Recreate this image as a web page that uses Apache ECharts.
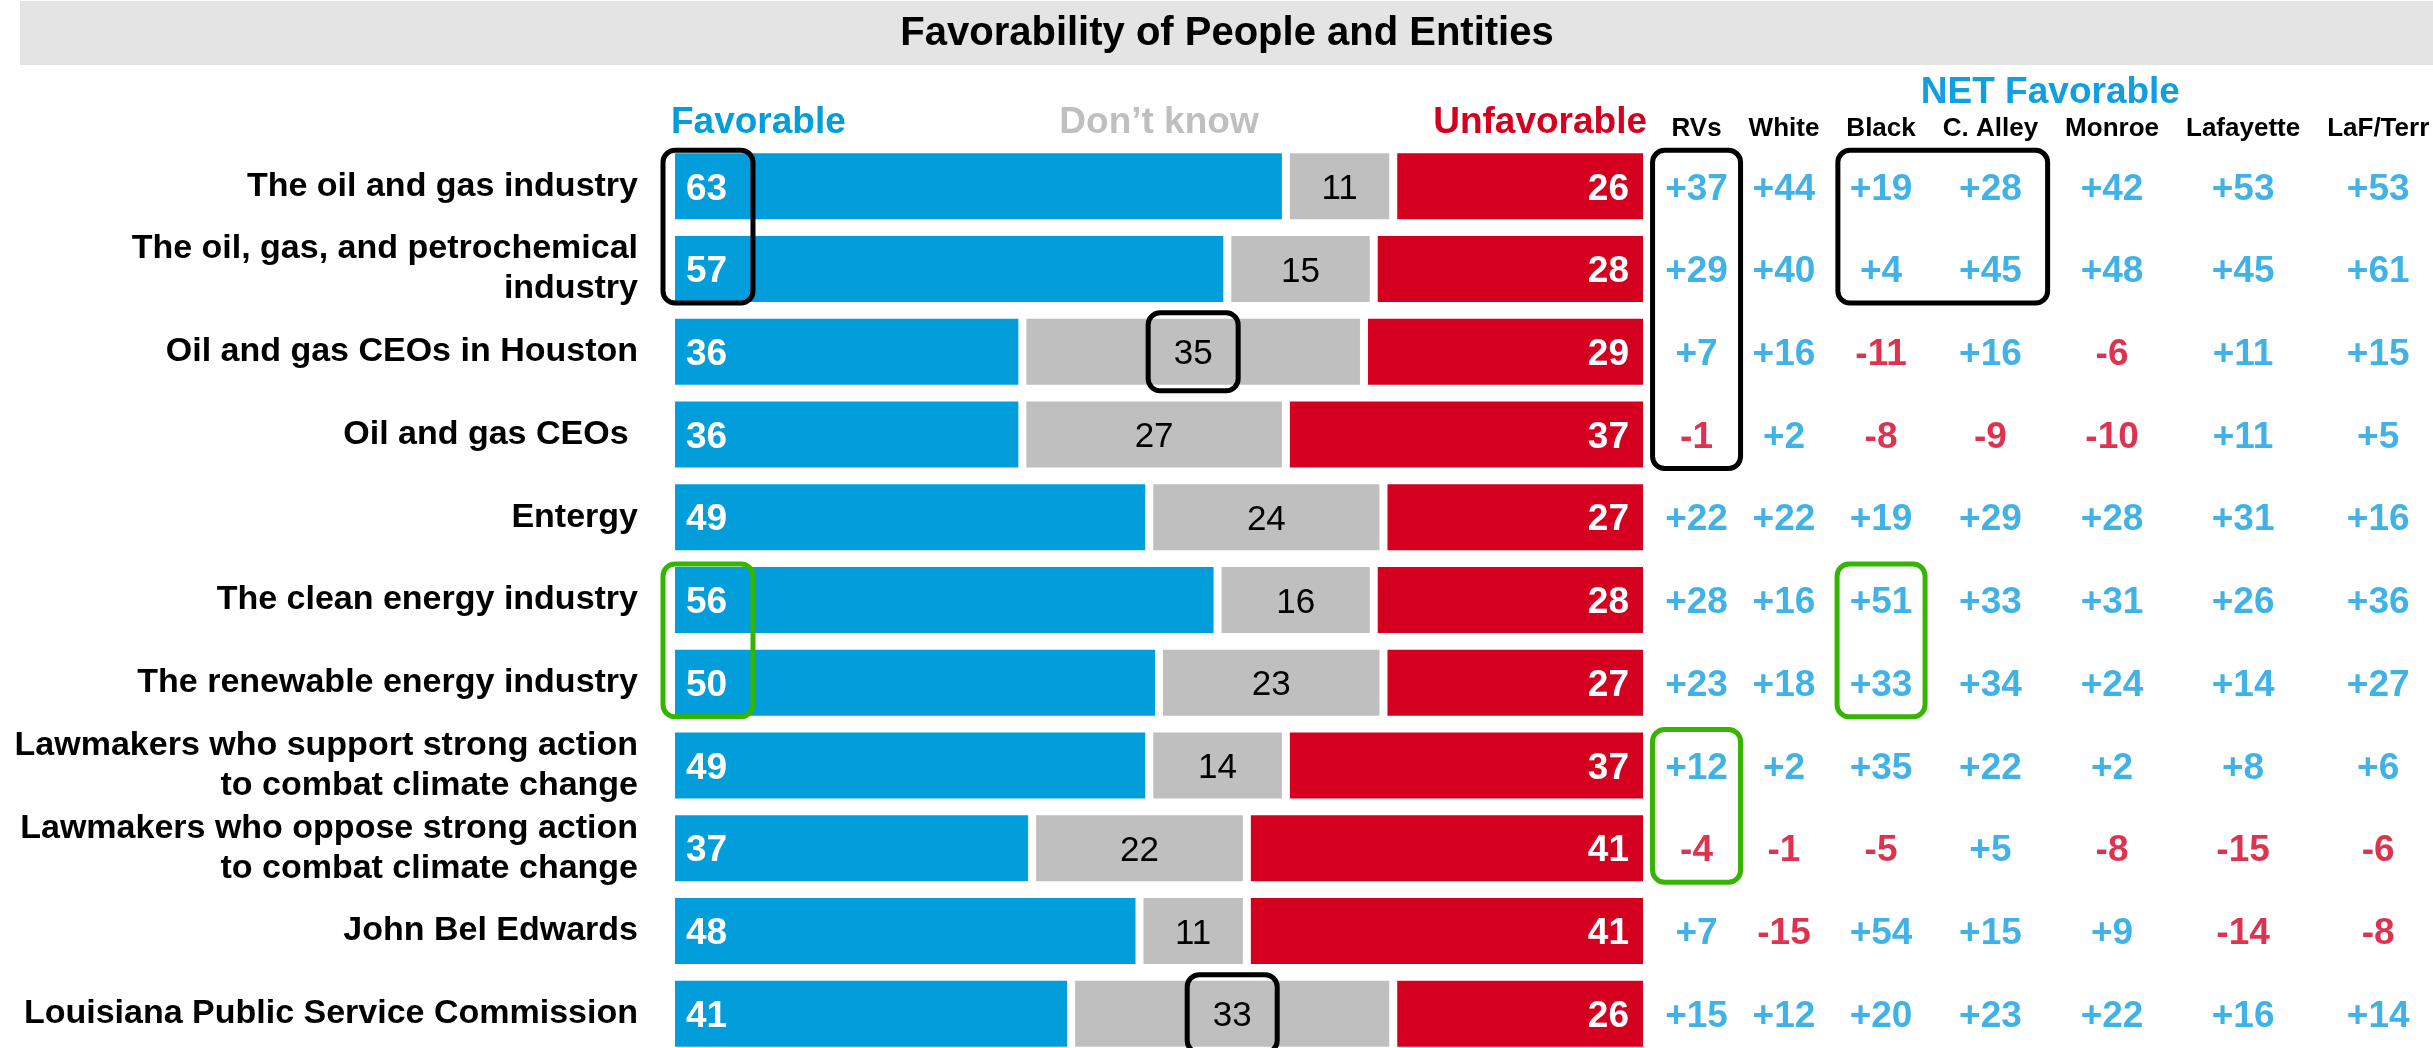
<!DOCTYPE html>
<html><head><meta charset="utf-8">
<script src="https://cdn.jsdelivr.net/npm/echarts@6/dist/echarts.min.js"></script>
<style>html,body{margin:0;padding:0;background:#fff}#c{width:2433px;height:1048px}</style>
</head><body><div id="c"></div>
<script>
// ---------- DATA ----------
const chartTitle = 'Favorability of People and Entities';
const categories = [
  'The oil and gas industry',
  'The oil, gas, and petrochemical\nindustry',
  'Oil and gas CEOs in Houston',
  'Oil and gas CEOs ',
  'Entergy',
  'The clean energy industry',
  'The renewable energy industry',
  'Lawmakers who support strong action\nto combat climate change',
  'Lawmakers who oppose strong action\nto combat climate change',
  'John Bel Edwards',
  'Louisiana Public Service Commission'
];
const barHeaders = ['Favorable', 'Don\u2019t know', 'Unfavorable'];
const favorable   = [63, 57, 36, 36, 49, 56, 50, 49, 37, 48, 41];
const dontKnow    = [11, 15, 35, 27, 24, 16, 23, 14, 22, 11, 33];
const unfavorable = [26, 28, 29, 37, 27, 28, 27, 37, 41, 41, 26];

const netTitle = 'NET Favorable';
const netColumns = ['RVs', 'White', 'Black', 'C. Alley', 'Monroe', 'Lafayette', 'LaF/Terr'];
const netRVs       = [37, 29, 7, -1, 22, 28, 23, 12, -4, 7, 15];
const netWhite     = [44, 40, 16, 2, 22, 16, 18, 2, -1, -15, 12];
const netBlack     = [19, 4, -11, -8, 19, 51, 33, 35, -5, 54, 20];
const netCAlley    = [28, 45, 16, -9, 29, 33, 34, 22, 5, 15, 23];
const netMonroe    = [42, 48, -6, -10, 28, 31, 24, 2, -8, 9, 22];
const netLafayette = [53, 45, 11, 11, 31, 26, 14, 8, -15, -14, 16];
const netLafTerr   = [53, 61, 15, 5, 16, 36, 27, 6, -6, -8, 14];
const netValues = [netRVs, netWhite, netBlack, netCAlley, netMonroe, netLafayette, netLafTerr];

// ---------- STYLE ----------
const FONT = '"Liberation Sans", Arial, Helvetica, sans-serif';
const BLUE = '#029ddb', RED = '#d5001f', GRAY = '#bfbfbf';
const NETBLUE = '#109fe0', NETRED = '#d50025', GREEN = '#35b400';
const headerColors = [BLUE, GRAY, RED];

// table column layout derived from header text widths
const mctx = document.createElement('canvas').getContext('2d');
mctx.font = 'bold 26px "Liberation Sans", Arial, sans-serif';
const colGap = 27;
const colCenters = [], colEdges = [];
let acc = 0;
netColumns.forEach(n => {
  const w = mctx.measureText(n).width + colGap;
  colEdges.push(acc); colCenters.push(acc + w / 2); acc += w;
});
colEdges.push(acc);
const tableWidth = acc;

const tableData = [];
netValues.forEach((arr, c) => arr.forEach((v, r) => {
  tableData.push({ value: [colCenters[c], r, v], label: { color: v < 0 ? NETRED : NETBLUE } });
}));

const chart = echarts.init(document.getElementById('c'), null, { renderer: 'canvas' });

function barSeries(name, data, color, label) {
  return {
    name, type: 'bar', stack: 'total', xAxisIndex: 0, yAxisIndex: 0, data,
    barWidth: 74, animation: false,
    itemStyle: { color, borderColor: '#ffffff', borderWidth: 4 },
    label: Object.assign({ show: true, fontFamily: FONT, offset: [0, 3] }, label),
    emphasis: { disabled: true }
  };
}

const option = {
  animation: false,
  grid: [
    { left: 671, top: 145, width: 976, height: 910, outerBoundsMode: 'none', containLabel: false },
    { left: 1658, top: 145, width: tableWidth, height: 910, outerBoundsMode: 'none', containLabel: false }
  ],
  xAxis: [
    {
      gridIndex: 0, type: 'value', min: 0, max: 100, position: 'top',
      axisLine: { show: false }, axisTick: { show: false }, splitLine: { show: false },
      axisLabel: {
        customValues: [0, 50, 100],
        formatter: v => barHeaders[Math.round(v / 50)],
        color: v => headerColors[Math.round(v / 50)],
        fontSize: 37, fontWeight: 'bold', fontFamily: FONT,
        margin: 22, verticalAlign: 'middle',
        alignMinLabel: 'left', alignMaxLabel: 'right'
      }
    },
    {
      gridIndex: 1, type: 'value', min: 0, max: tableWidth, position: 'top',
      name: netTitle, nameLocation: 'middle', nameGap: 51,
      nameTextStyle: { color: NETBLUE, fontSize: 37, fontWeight: 'bold', fontFamily: FONT, verticalAlign: 'middle' },
      axisLine: { show: false }, axisTick: { show: false }, splitLine: { show: false },
      axisLabel: {
        customValues: colCenters,
        formatter: v => {
          let bi = 0, bd = Infinity;
          colCenters.forEach((c, i) => { const d = Math.abs(c - v); if (d < bd) { bd = d; bi = i; } });
          return netColumns[bi];
        },
        color: '#000', fontSize: 26, fontWeight: 'bold', fontFamily: FONT,
        margin: 16, verticalAlign: 'middle'
      }
    }
  ],
  yAxis: [
    {
      gridIndex: 0, type: 'category', data: categories, inverse: true,
      axisLine: { show: false }, axisTick: { show: false }, splitLine: { show: false },
      axisLabel: {
        interval: 0, color: '#000', fontSize: 34, fontWeight: 'bold', fontFamily: FONT,
        margin: 33, lineHeight: 40, align: 'right', padding: [6, 0, 0, 0]
      }
    },
    { gridIndex: 1, type: 'category', data: categories, inverse: true, show: false }
  ],
  series: [
    barSeries('Favorable', favorable, BLUE,
      { position: 'insideLeft', distance: 15, color: '#fff', fontSize: 37, fontWeight: 'bold' }),
    barSeries('Don\u2019t know', dontKnow, GRAY,
      { position: 'inside', color: '#000', fontSize: 35, fontWeight: 'normal' }),
    barSeries('Unfavorable', unfavorable, RED,
      { position: 'insideRight', distance: 18, color: '#fff', fontSize: 37, fontWeight: 'bold' }),
    {
      type: 'scatter', xAxisIndex: 1, yAxisIndex: 1, data: tableData,
      symbolSize: 1, itemStyle: { color: 'rgba(0,0,0,0)' }, animation: false,
      emphasis: { disabled: true },
      label: {
        show: true, position: 'inside', offset: [0, 3], fontSize: 37, fontWeight: 'bold', fontFamily: FONT,
        formatter: p => (p.value[2] > 0 ? '+' : '') + p.value[2]
      }
    }
  ]
};
chart.setOption(option);

// ---------- ANNOTATION BOXES (anchored to data cells) ----------
const annotations = [
  { type: 'favLabel', rows: [0, 1], color: '#000' },
  { type: 'gray', rows: [2], color: '#000' },
  { type: 'table', cols: [0, 0], rows: [0, 3], color: '#000' },
  { type: 'table', cols: [2, 3], rows: [0, 1], color: '#000' },
  { type: 'gray', rows: [10], color: '#000' },
  { type: 'favLabel', rows: [5, 6], color: GREEN },
  { type: 'table', cols: [2, 2], rows: [5, 6], color: GREEN },
  { type: 'table', cols: [0, 0], rows: [7, 8], color: GREEN }
];
const barPx = (v, r) => chart.convertToPixel({ xAxisIndex: 0, yAxisIndex: 0 }, [v, r]);
const tabPx = (v, r) => chart.convertToPixel({ xAxisIndex: 1, yAxisIndex: 1 }, [v, r]);

const graphics = [
  { type: 'rect', shape: { x: 20, y: 1, width: 2413, height: 64 }, style: { fill: '#e4e4e4' }, z: -1 },
  { type: 'text', x: 1227, y: 34, style: { text: chartTitle, fill: '#000', fontSize: 40, fontWeight: 'bold', fontFamily: FONT, align: 'center', verticalAlign: 'middle' } }
];
annotations.forEach(a => {
  let x0, x1, y0, y1;
  if (a.type === 'favLabel') {
    x0 = barPx(0, a.rows[0])[0] - 8; x1 = x0 + 90;
    y0 = barPx(0, a.rows[0])[1] - 36; y1 = barPx(0, a.rows[1])[1] + 34;
  } else if (a.type === 'gray') {
    const r = a.rows[0];
    const cx = barPx(favorable[r] + dontKnow[r] / 2, r)[0];
    x0 = cx - 45; x1 = cx + 45;
    const cy = barPx(0, r)[1];
    y0 = cy - 39; y1 = cy + 39;
  } else {
    if (a.cols[0] === a.cols[1]) {
      const cx = tabPx(colCenters[a.cols[0]], 0)[0];
      x0 = cx - 44; x1 = cx + 44;
    } else {
      x0 = tabPx(colEdges[a.cols[0]], 0)[0] + 5;
      x1 = tabPx(colEdges[a.cols[1] + 1], 0)[0] - 4;
    }
    y0 = tabPx(0, a.rows[0])[1] - 36; y1 = tabPx(0, a.rows[1])[1] + 34;
  }
  graphics.push({
    type: 'rect', z: 100,
    shape: { x: x0, y: y0, width: x1 - x0, height: y1 - y0, r: 12 },
    style: { fill: 'none', stroke: a.color, lineWidth: 5 }
  });
});
chart.setOption({ graphic: graphics });
</script>
</body></html>
